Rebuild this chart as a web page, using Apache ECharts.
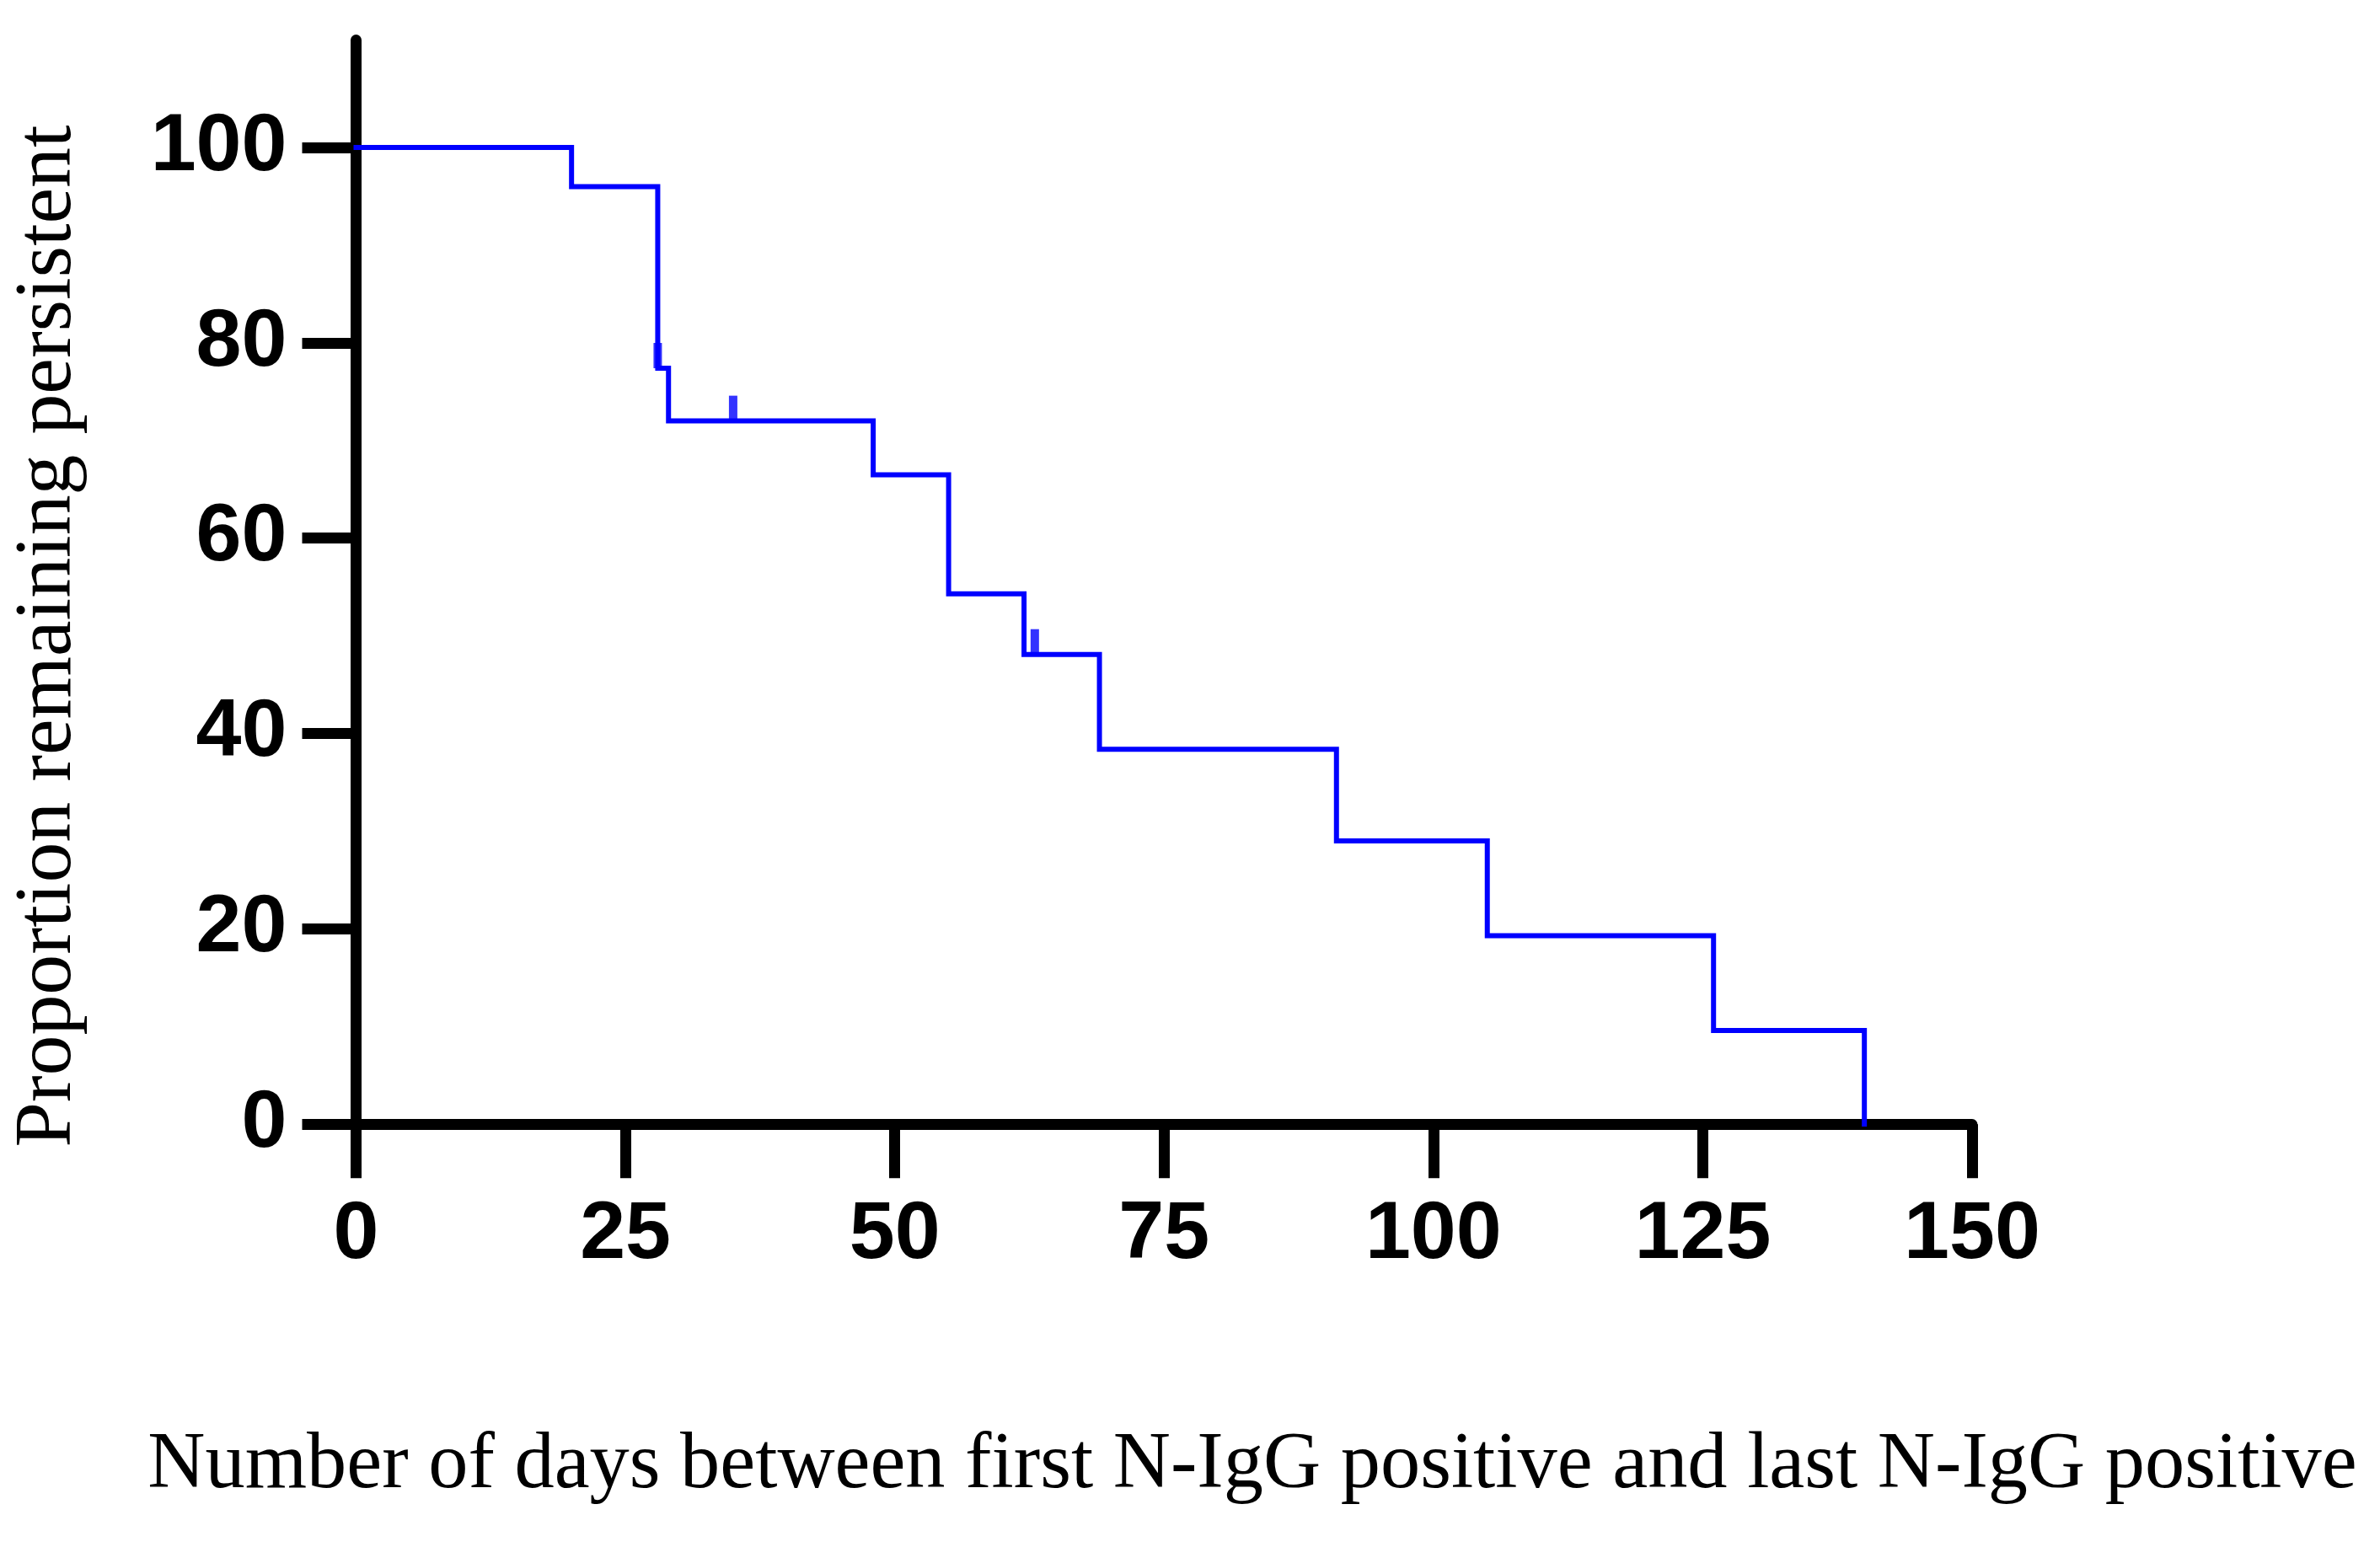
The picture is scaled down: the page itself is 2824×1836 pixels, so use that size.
<!DOCTYPE html>
<html>
<head>
<meta charset="utf-8">
<script src="https://cdn.jsdelivr.net/npm/echarts@6/dist/echarts.min.js"></script>
<style>
html,body{margin:0;padding:0;background:#fff;}
#chart{width:2824px;height:1836px;}
</style>
</head>
<body>
<div id="chart"></div>
<script>
// Kaplan-Meier step points: [day, proportion]
const stepDays   = [0, 20, 28, 29, 48, 55, 62, 69, 91, 105, 126, 140];
const stepValues = [100, 96, 77.4, 72, 66.5, 54.3, 48.1, 38.4, 29.0, 19.3, 9.6, 0];
// Censored observations
const censorDays   = [28, 35, 63];
const censorValues = [77.4, 72, 48.1];
// Tick labels
const xTicks = [0, 25, 50, 75, 100, 125, 150];
const yTicks = [0, 20, 40, 60, 80, 100];
const xTitle = 'Number of days between first N-IgG positive and last N-IgG positive';
const yTitle = 'Proportion remaining persistent';

const serif = '"Liberation Serif", "Times New Roman", serif';
const sans = '"Liberation Sans", Arial, Helvetica, sans-serif';

function fitSize(text, family, targetW) {
  const ctx = document.createElement('canvas').getContext('2d');
  ctx.font = '100px ' + family;
  return 100 * targetW / ctx.measureText(text).width;
}
const xTitleSize = fitSize(xTitle, serif, 2621);
const yTitleSize = fitSize(yTitle, serif, 1213);

const chart = echarts.init(document.getElementById('chart'), null, {renderer: 'canvas'});
const axisColor = '#000';
chart.setOption({
  animation: false,
  backgroundColor: '#fff',
  grid: {left: 422.5, right: 484, top: 47.5, bottom: 501.7, containLabel: false},
  xAxis: {
    type: 'value', min: 0, max: 150, interval: 25,
    splitLine: {show: false},
    axisLine: {show: true, onZero: false, lineStyle: {color: axisColor, width: 13}},
    axisTick: {show: true, length: 64, lineStyle: {color: axisColor, width: 13}, customValues: xTicks},
    axisLabel: {
      customValues: xTicks, margin: 132, verticalAlign: 'middle',
      color: '#000', fontFamily: sans, fontWeight: 'bold', fontSize: 97
    }
  },
  yAxis: {
    type: 'value', min: 0, max: 111, interval: 20,
    splitLine: {show: false},
    axisLine: {show: true, onZero: false, lineStyle: {color: axisColor, width: 13}},
    axisTick: {show: true, length: 64, lineStyle: {color: axisColor, width: 13}, customValues: yTicks},
    axisLabel: {
      customValues: yTicks, margin: 82,
      color: '#000', fontFamily: sans, fontWeight: 'bold', fontSize: 97
    }
  },
  graphic: [
    {
      type: 'text', x: 1486, y: 1772 - 0.34 * xTitleSize,
      style: {text: xTitle, font: xTitleSize.toFixed(1) + 'px ' + serif, fill: '#000',
              textAlign: 'center', textVerticalAlign: 'middle'}
    },
    {
      type: 'text', x: 90 - 0.34 * yTitleSize, y: 755, rotation: Math.PI / 2,
      style: {text: yTitle, font: yTitleSize.toFixed(1) + 'px ' + serif, fill: '#000',
              textAlign: 'center', textVerticalAlign: 'middle'}
    }
  ],
  series: [
    {
      type: 'line', step: 'end', symbol: 'none', silent: true,
      data: stepDays.map((d, i) => [d, stepValues[i]]),
      lineStyle: {color: '#0000ff', width: 6, cap: 'square', join: 'miter'},
      z: 3
    },
    {
      type: 'scatter', symbol: 'rect', symbolSize: [10, 30], symbolOffset: [0, '-50%'],
      data: censorDays.map((d, i) => [d, censorValues[i]]),
      itemStyle: {color: '#0000ff'}, silent: true, z: 4
    }
  ]
});
</script>
</body>
</html>
